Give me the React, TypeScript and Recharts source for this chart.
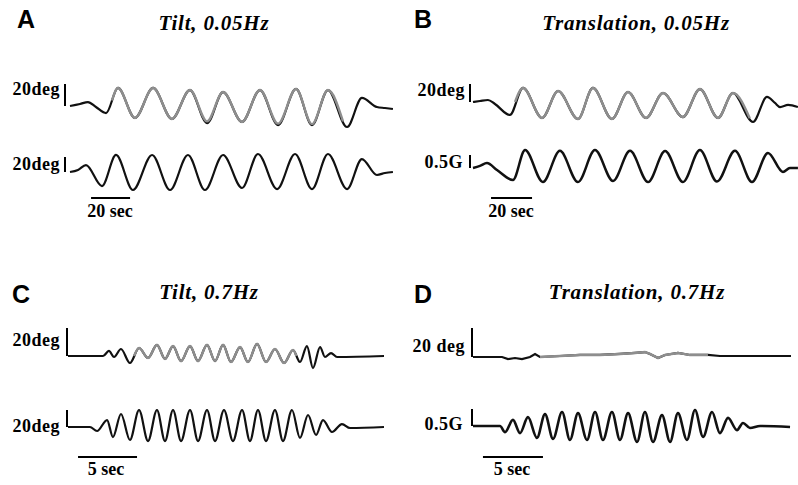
import React from 'react';
import { LineChart, Line, XAxis, YAxis, ReferenceLine } from 'recharts';

type Pt = [number, number];

// [time in s, amplitude] (deg, or G for the 0.5G traces)
const tiltSlowUpper: Pt[] = [
  [0, 0], [5.1, 1.8], [9.2, 3.6], [13.3, -0.9], [18.5, -6.4], [24.6, 16.4], [33.3, -10.9],
  [42.6, 16.4], [52.3, -11.8], [61.5, 14.5], [70.3, -15.5], [78.5, 12.7], [88.2, -14.5],
  [97.4, 14.5], [106.7, -17.3], [115.9, 15.5], [124.1, -17.3], [132.3, 14.5], [142.1, -19.1],
  [149.7, 7.3], [157.4, -0.9], [161.5, -1.8], [165.6, -2.7],
];
const tiltSlowUpperFit: Pt[] = [
  [21.5, 5], [24.6, 16.4], [33.3, -10.9], [42.6, 16.4], [52.3, -11.8], [61.5, 14.5], [70.3, -14],
  [78.5, 12.7], [88.2, -14.5], [97.4, 14.5], [106.7, -16], [115.9, 15.5], [124.1, -16.5],
  [132.3, 14.5], [140, -14],
];
const tiltSlowLower: Pt[] = [
  [0, 0], [4.1, 2.7], [8.2, 9.3], [16.4, -18.7], [23.6, 22.7], [32.3, -24], [42.1, 22.7],
  [51.3, -24], [60.5, 22.7], [69.2, -24], [78.5, 22.7], [88.2, -21.3], [96.4, 24], [106.2, -22.7],
  [115.4, 24], [124.1, -22.7], [132.3, 24], [142.1, -22.7], [149.7, 17.3], [157.4, -4],
  [161.5, -1.3], [165.6, 0],
];

const transSlowUpper: Pt[] = [
  [0, 0], [3.4, 1.1], [7.3, 2.2], [10.7, -2.2], [18, -14.4], [24.4, 15.6], [33.7, -17.8],
  [41.5, 12.2], [51.2, -18.9], [58.5, 15.6], [67.8, -18.9], [75.6, 11.1], [84.4, -17.8],
  [92.7, 10], [102.4, -16.7], [110.7, 14.4], [119.5, -17.8], [126.8, 10], [136.6, -22.2],
  [143.4, 5.6], [147.3, -1.1], [149.8, -5.6], [153.7, -3.3], [158.5, -5.6],
];
const transSlowUpperFit: Pt[] = [
  [20.5, 0], [24.4, 15.6], [33.7, -17.8], [41.5, 12.2], [51.2, -18.9], [58.5, 15.6],
  [67.8, -18.9], [75.6, 11.1], [84.4, -17.8], [92.7, 10], [102.4, -16.7], [110.7, 14.4],
  [119.5, -17.8], [126.8, 10], [135, -18],
];
const transSlowLower: Pt[] = [
  [0, 0], [3.4, 0.08], [6.8, 0.19], [11.7, -0.08], [19.5, -0.46], [25.4, 0.69], [34.1, -0.54],
  [42.4, 0.66], [51.2, -0.54], [59.5, 0.69], [68.3, -0.5], [76.6, 0.66], [85.4, -0.54],
  [93.7, 0.65], [102.4, -0.54], [110.7, 0.69], [119, -0.52], [127.8, 0.66], [136.1, -0.54],
  [143.9, 0.58], [151.2, -0.15], [154.6, 0], [158.5, 0],
];

const tiltFastUpper: Pt[] = [
  [0, 0], [2.97, 0], [3.47, 3.6], [3.9, -0.7], [4.49, 5], [5.25, -5], [6.02, 5.7], [6.78, -1.4],
  [7.54, 7.9], [8.22, -2.1], [8.9, 7.1], [9.58, -3.6], [10.34, 7.1], [11.02, -3.6], [11.78, 7.9],
  [12.46, -3.6], [13.14, 7.9], [13.81, -4.3], [14.58, 6.4], [15.25, -4.3], [16.02, 8.6],
  [16.78, -4.3], [17.54, 5], [18.31, -5], [19.07, 4.3], [19.66, -4.3], [20.25, 7.1],
  [20.76, -8.6], [21.36, 6.4], [21.78, -0.7], [22.29, 2.1], [22.8, -0.7], [26.78, 0],
];
const tiltFastUpperFit: Pt[] = [
  [5.6, 0], [6.02, 5.7], [6.78, -1.4], [7.54, 7.9], [8.22, -2.1], [8.9, 7.1], [9.58, -3.6],
  [10.34, 7.1], [11.02, -3.6], [11.78, 7.9], [12.46, -3.6], [13.14, 7.9], [13.81, -4.3],
  [14.58, 6.4], [15.25, -4.3], [16.02, 8.6], [16.78, -4.3], [17.54, 5], [18.31, -5],
  [19.07, 4.3], [19.35, 0],
];
const tiltFastLower: Pt[] = [
  [0, 0], [1.86, 0], [2.46, -4.7], [3.31, 8.2], [3.81, -11.8], [4.49, 15.3], [5.25, -15.3],
  [6.02, 20], [6.78, -16.5], [7.54, 20], [8.22, -16.5], [8.9, 20], [9.58, -16.5], [10.34, 20],
  [11.02, -16.5], [11.78, 20], [12.46, -16.5], [13.22, 20], [13.98, -16.5], [14.75, 20],
  [15.42, -16.5], [16.1, 20], [16.78, -16.5], [17.54, 20], [18.22, -16.5], [18.98, 20],
  [19.66, -12.9], [20.34, 14.1], [21.02, -9.4], [21.61, 8.2], [22.37, -5.9], [23.22, 3.5],
  [23.9, -1.2], [26.78, 0],
];

const transFastUpper: Pt[] = [
  [0, 0], [2.42, 0], [2.92, -1.4], [3.5, -0.7], [4.08, -1.4], [4.75, 0], [5.17, 2.1], [5.58, 0],
  [7.25, 0.7], [8.92, 1.4], [10.58, 1.4], [12.25, 2.1], [13.5, 2.8], [14.33, 3.4], [14.75, 2.1],
  [15.42, -0.7], [16, 1.4], [17.08, 2.8], [18.08, 1.4], [19.58, 1.4], [20.58, 0.7],
  [23.08, 0.7], [26.5, 0.7],
];
const transFastUpperFit: Pt[] = [
  [5.58, 0], [7.25, 0.7], [8.92, 1.4], [10.58, 1.4], [12.25, 2.1], [13.5, 2.8], [14.33, 3.4],
  [14.75, 2.1], [15.42, -0.7], [16, 1.4], [17.08, 2.8], [18.08, 1.4], [19.58, 1.4],
];
const transFastLower: Pt[] = [
  [0, 0], [2.25, 0], [2.67, -0.18], [3.33, 0.18], [3.92, -0.21], [4.58, 0.26], [5.33, -0.35],
  [6, 0.35], [6.67, -0.38], [7.42, 0.41], [8.08, -0.41], [8.75, 0.38], [9.5, -0.41],
  [10.17, 0.41], [10.83, -0.41], [11.58, 0.41], [12.25, -0.41], [12.92, 0.38], [13.67, -0.47],
  [14.33, 0.41], [15, -0.47], [15.75, 0.32], [16.42, -0.47], [17.08, 0.38], [17.83, -0.41],
  [18.5, 0.47], [19.17, -0.32], [19.92, 0.41], [20.58, -0.21], [21.25, 0.24], [22, -0.12],
  [22.5, 0.09], [23.08, -0.06], [23.92, 0], [26.42, -0.03],
];

const panelLetters = ['A', 'B', 'C', 'D'];
const panelTitles = ['Tilt, 0.05Hz', 'Translation, 0.05Hz', 'Tilt, 0.7Hz', 'Translation, 0.7Hz'];
const ampLabels = ['20deg', '20deg', '20deg', '0.5G', '20deg', '20deg', '20 deg', '0.5G'];
const ampSizes = [20, 20, 20, 0.5, 20, 20, 20, 0.5];
const timeLabels = ['20 sec', '20 sec', '5 sec', '5 sec'];
const timeSizes = [20, 20, 5, 5];
const timeStarts = [10.8, 8.8, 0.85, 0.83];

const rows = (pts: Pt[]) => pts.map(([t, v]) => ({ t, v }));

interface TraceProps {
  box: [number, number, number, number];
  origin: [number, number];
  pps: number;
  ppu: number;
  black: Pt[];
  gray?: Pt[];
  barX: number;
  barSize: number;
  timeBar?: { start: number; len: number; y: number };
  lineWidth?: number;
  curve?: 'monotone' | 'linear';
}

const Trace = ({ box, origin, pps, ppu, black, gray, barX, barSize, timeBar, lineWidth = 2.2, curve = 'monotone' }: TraceProps) => {
  const [left, top, w, h] = box;
  const xDom = [(left - origin[0]) / pps, (left + w - origin[0]) / pps];
  const yDom = [(origin[1] - (top + h)) / ppu, (origin[1] - top) / ppu];
  const bt = (barX - origin[0]) / pps;
  return (
    <div style={{ position: 'absolute', left, top }}>
      <LineChart width={w} height={h} margin={{ top: 0, right: 0, bottom: 0, left: 0 }}>
        <XAxis type="number" dataKey="t" domain={xDom} hide allowDataOverflow />
        <YAxis type="number" domain={yDom} hide allowDataOverflow />
        <ReferenceLine segment={[{ x: bt, y: 0 }, { x: bt, y: barSize }]} stroke="#000" strokeWidth={2} ifOverflow="visible" />
        {timeBar && (
          <ReferenceLine
            segment={[
              { x: timeBar.start, y: (origin[1] - timeBar.y) / ppu },
              { x: timeBar.start + timeBar.len, y: (origin[1] - timeBar.y) / ppu },
            ]}
            stroke="#000"
            strokeWidth={2}
            ifOverflow="visible"
          />
        )}
        <Line data={rows(black)} dataKey="v" type={curve} stroke="#111" strokeWidth={lineWidth} dot={false} activeDot={false} isAnimationActive={false} />
        {gray && (
          <Line data={rows(gray)} dataKey="v" type={curve} stroke="#8e8e8e" strokeWidth={2.4} dot={false} activeDot={false} isAnimationActive={false} />
        )}
      </LineChart>
    </div>
  );
};

const serif = "'Liberation Serif', 'DejaVu Serif', serif";
const sans = "'Liberation Sans', Arial, sans-serif";

export default function App() {
  const letterPos = [[17, 28], [414, 28], [12, 303], [414, 303]];
  const titlePos = [[214, 30], [636, 30], [209, 299], [637, 299]];
  const ampPos = [[60, 95], [60, 170], [465, 96], [463, 168], [60, 346], [60, 432], [465, 352], [463, 430]];
  const timePos = [[110, 217], [511, 217], [106, 475], [512, 475]];
  const tb = (i: number, y: number) => ({ start: timeStarts[i], len: timeSizes[i], y });

  return (
    <div style={{ position: 'absolute', left: 0, top: 0, width: 798, height: 485, background: '#fff', overflow: 'hidden' }}>
      <Trace box={[60, 78, 340, 58]} origin={[70, 106]} pps={1.95} ppu={1.1} black={tiltSlowUpper} gray={tiltSlowUpperFit} barX={65} barSize={ampSizes[0]} />
      <Trace box={[60, 145, 340, 62]} origin={[70, 172]} pps={1.95} ppu={0.75} black={tiltSlowLower} barX={65} barSize={ampSizes[1]} timeBar={tb(0, 198)} />
      <Trace box={[465, 78, 333, 58]} origin={[473, 102]} pps={2.05} ppu={0.9} black={transSlowUpper} gray={transSlowUpperFit} barX={470} barSize={ampSizes[2]} />
      <Trace box={[465, 145, 333, 62]} origin={[473, 168]} pps={2.05} ppu={26} black={transSlowLower} barX={470} barSize={ampSizes[3]} timeBar={tb(1, 198)} lineWidth={2.5} />
      <Trace box={[62, 320, 330, 56]} origin={[68, 356]} pps={11.8} ppu={1.4} black={tiltFastUpper} gray={tiltFastUpperFit} barX={67} barSize={ampSizes[4]} />
      <Trace box={[62, 400, 330, 65]} origin={[68, 427]} pps={11.8} ppu={0.85} black={tiltFastLower} barX={67} barSize={ampSizes[5]} timeBar={tb(2, 457)} />
      <Trace box={[466, 320, 330, 56]} origin={[473, 357]} pps={12} ppu={1.45} black={transFastUpper} gray={transFastUpperFit} barX={472} barSize={ampSizes[6]} curve="linear" />
      <Trace box={[466, 400, 330, 65]} origin={[473, 426]} pps={12} ppu={34} black={transFastLower} barX={472} barSize={ampSizes[7]} timeBar={tb(3, 457)} lineWidth={2.6} />

      <svg width={798} height={485} style={{ position: 'absolute', left: 0, top: 0, pointerEvents: 'none' }}>
        {panelLetters.map((l, i) => (
          <text key={l} x={letterPos[i][0]} y={letterPos[i][1]} fontFamily={sans} fontWeight="bold" fontSize={25} fill="#000">{l}</text>
        ))}
        {panelTitles.map((t, i) => (
          <text key={t} x={titlePos[i][0]} y={titlePos[i][1]} textAnchor="middle" fontFamily={serif} fontWeight="bold" fontStyle="italic" fontSize={21} letterSpacing={0.8} fill="#000">{t}</text>
        ))}
        {ampLabels.map((t, i) => (
          <text key={i} x={ampPos[i][0]} y={ampPos[i][1]} textAnchor="end" fontFamily={serif} fontWeight="bold" fontSize={18} letterSpacing={0.5} fill="#000">{t}</text>
        ))}
        {timeLabels.map((t, i) => (
          <text key={i} x={timePos[i][0]} y={timePos[i][1]} textAnchor="middle" fontFamily={serif} fontWeight="bold" fontSize={18} fill="#000">{t}</text>
        ))}
      </svg>
    </div>
  );
}
